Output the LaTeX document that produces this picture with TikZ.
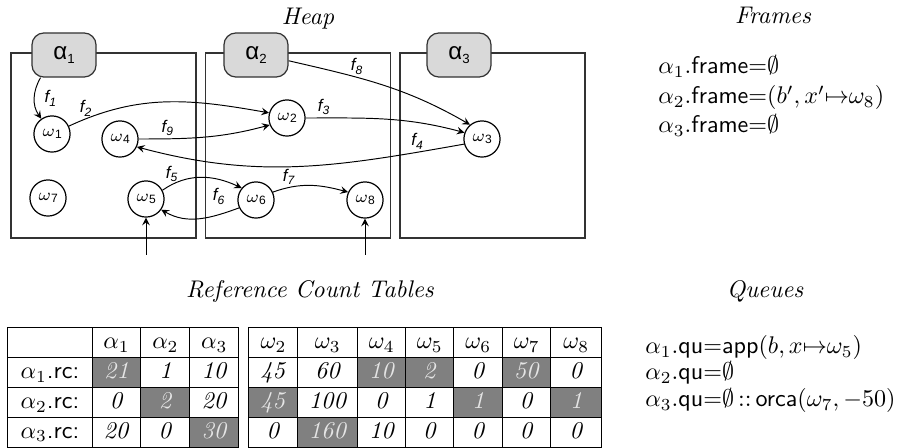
\documentclass[tikz,border=0pt]{standalone}
\usepackage{amsmath}
\usepackage{amssymb}
\usepackage{fontspec}
\newfontfamily\helvfont{Liberation Sans}
\usepackage{array}
\usepackage{colortbl}
\usetikzlibrary{shapes.geometric, arrows, positioning}

\definecolor{alphagray}{gray}{0.85}
\definecolor{cellgray}{gray}{0.5}
\definecolor{celltext}{gray}{0.9}
\definecolor{linegray}{gray}{0.2}

\newcolumntype{C}[1]{>{\centering\arraybackslash}p{#1}}
\newcommand{\alab}[1]{{\helvfont α\raisebox{-0.35ex}{\fontsize{5.5}{6}\selectfont #1}}}
\newcommand{\wlab}[1]{$\omega$\raisebox{-0.3ex}{\helvfont\tiny #1}}
\newcommand{\flab}[1]{{\helvfont\itshape f\raisebox{-0.4ex}{\tiny #1}}}
\newcommand{\shd}[1]{\cellcolor{cellgray}\textcolor{celltext}{\textit{#1}}}

\begin{document}
\begin{tikzpicture}[x=0.415pt, y=0.415pt]
        \tikzstyle{heapbox} = [rectangle, draw=linegray, line width=0.6pt, minimum width=76.8pt, minimum height=76.8pt, inner sep=0pt]
        \tikzstyle{actor} = [rectangle, rounded corners=5pt, draw=black!80, line width=0.5pt, fill=alphagray, minimum width=26.6pt, minimum height=18.3pt]
        \tikzstyle{object} = [circle, draw=black, line width=0.5pt, minimum size=15pt, inner sep=0pt, font=\scriptsize]
        \tikzstyle{arrow} = [line width=0.4pt,->,>=stealth]
        \tikzstyle{flabel} = [font=\scriptsize, inner sep=1pt]
        \tikzstyle{headline} = [anchor=base, font=\itshape]
        \tikzstyle{textline} = [anchor=base west, inner sep=0pt]
        \tikzstyle{rctable} = [anchor=north west, inner sep=0pt]

        \useasboundingbox (0,0) rectangle (902,-448);

        % heap
        \node (heap) [headline] at (308,-25) {Heap};
        \node (heapA) [heapbox] at (103.5,-145.5) {};
        \node (heapB) [heapbox, right=3.3pt of heapA] {};
        \node (heapC) [heapbox, right=3.3pt of heapB] {};

        \node (a1) [actor] at (64,-55) {\alab{1}};
        \node (a2) [actor] at (256,-55) {\alab{2}};
        \node (a3) [actor] at (459,-55) {\alab{3}};

        \node (w1) [object] at (52,-134) {\wlab{1}};
        \node (w4) [object] at (120,-139) {\wlab{4}};
        \node (w7) [object] at (48,-198) {\wlab{7}};
        \node (w5) [object] at (146,-199) {\wlab{5}};
        \node (w2) [object] at (287,-118) {\wlab{2}};
        \node (w6) [object] at (256,-200) {\wlab{6}};
        \node (w8) [object] at (365,-200) {\wlab{8}};
        \node (w3) [object] at (482,-139) {\wlab{3}};
        \coordinate (in5) at (146,-255);
        \coordinate (in8) at (365,-255);

        \draw [arrow] (a1.224) to[out=240,in=125] node[flabel, right=3pt] (lf1) {\flab{1}} (w1.125);
        \draw [arrow] (w1.25) to[out=25,in=170] node[flabel, above, pos=0.08] (lf2) {\flab{2}} (w2.164);
        \draw [arrow] (w4.east) to[out=0,in=195] node[flabel, above, pos=0.2] (lf9) {\flab{9}} (w2.202);
        \draw [arrow] (w2.east) to[out=0,in=165] node[flabel, above, pos=0.1] (lf3) {\flab{3}} (w3.160);
        \draw [arrow] (a2.-10) to[out=-13,in=150] node[flabel, above, pos=0.35] (lf8) {\flab{8}} (w3.130);
        \draw [arrow] (w3.196) to[out=190,in=-15] node[flabel, above, pos=0.13] (lf4) {\flab{4}} (w4.-25);
        \draw [arrow] (w5.28) to[out=35,in=155] node[flabel, above, pos=0.12] (lf5) {\flab{5}} (w6.140);
        \draw [arrow] (w6.205) to[out=200,in=-30] node[flabel, above=3pt, pos=0.25] (lf6) {\flab{6}} (w5.-35);
        \draw [arrow] (w6.25) to[out=20,in=165] node[flabel, above, pos=0.2] (lf7) {\flab{7}} (w8.155);
        \draw [arrow] (in5) -- (w5);
        \draw [arrow] (in8) -- (w8);

        % frames
        \node (frames) [headline] at (773,-24) {Frames};
        \node (fr1) [textline] at (658,-74) {$\alpha_1$.\textsf{frame}${=}\emptyset$};
        \node (fr2) [textline] at (658,-104) {$\alpha_2$.\textsf{frame}${=}(b',x'{\mapsto}\omega_8)$};
        \node (fr3) [textline] at (658,-133) {$\alpha_3$.\textsf{frame}${=}\emptyset$};

        % reference counts
        \node (rctitle) [headline] at (310,-298) {Reference Count Tables};
        \node (rcA) [rctable] at (7,-327) {\setlength{\tabcolsep}{0pt}%
            \begin{tabular}{|C{34.5pt}|C{19.9pt}|C{19.9pt}|C{19.9pt}|}
                \hline
                & $\alpha_1$ & $\alpha_2$ & $\alpha_3$ \\ \hline
                $\alpha_1$\textsf{.rc:} & \shd{21} & \textit{1} & \textit{10} \\ \hline
                $\alpha_2$\textsf{.rc:} & \textit{0} & \shd{2} & \textit{20} \\ \hline
                $\alpha_3$\textsf{.rc:} & \textit{20} & \textit{0} & \shd{30} \\ \hline
            \end{tabular}};
        \node (rcB) [rctable] at (248,-327) {\setlength{\tabcolsep}{0pt}%
            \begin{tabular}{|C{19.9pt}|C{24.5pt}|C{19.5pt}|C{19.5pt}|C{19.9pt}|C{19.5pt}|C{20.8pt}|}
                \hline
                $\omega_2$ & $\omega_3$ & $\omega_4$ & $\omega_5$ & $\omega_6$ & $\omega_7$ & $\omega_8$ \\ \hline
                \textit{45} & \textit{60} & \shd{10} & \shd{2} & \textit{0} & \shd{50} & \textit{0} \\ \hline
                \shd{45} & \textit{100} & \textit{0} & \textit{1} & \shd{1} & \textit{0} & \shd{1} \\ \hline
                \textit{0} & \shd{160} & \textit{10} & \textit{0} & \textit{0} & \textit{0} & \textit{0} \\ \hline
            \end{tabular}};

        % queues
        \node (queues) [headline] at (765,-298) {Queues};
        \node (qu1) [textline] at (645,-354) {$\alpha_1$.\textsf{qu}${=}$\textsf{app}$(b,x{\mapsto}\omega_5)$};
        \node (qu2) [textline] at (645,-380) {$\alpha_2$.\textsf{qu}${=}\emptyset$};
        \node (qu3) [textline] at (645,-407) {$\alpha_3$.\textsf{qu}${=}\emptyset\,{::}\,$\textsf{orca}$(\omega_7,-50)$};
    \end{tikzpicture}
\end{document}
